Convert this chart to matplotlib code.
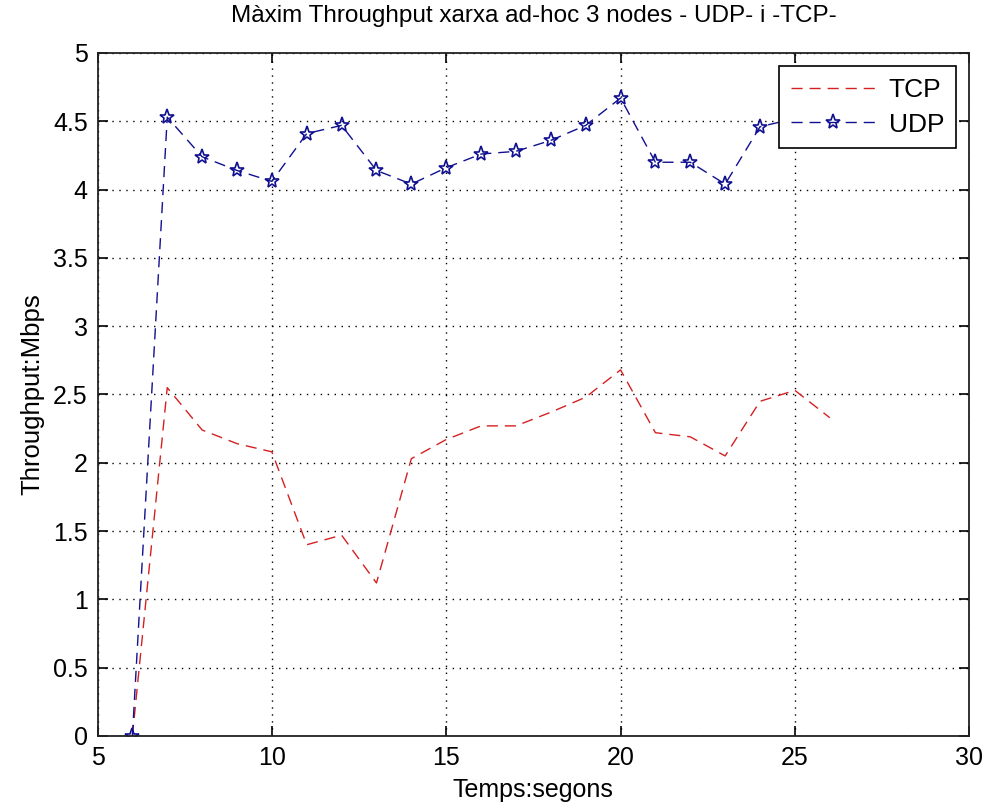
import matplotlib.pyplot as plt

# temps (segons) i throughput (Mbps)
temps_tcp = [6, 7, 8, 9, 10, 11, 12, 13, 14, 15, 16, 17, 18, 19, 20, 21, 22, 23, 24, 25, 26]
tcp = [0, 2.55, 2.24, 2.14, 2.08, 1.40, 1.47, 1.12, 2.03, 2.17, 2.27, 2.27, 2.37, 2.48, 2.68,
       2.22, 2.19, 2.05, 2.45, 2.53, 2.33]

temps_udp = [6, 7, 8, 9, 10, 11, 12, 13, 14, 15, 16, 17, 18, 19, 20, 21, 22, 23, 24, 25, 26]
udp = [0, 4.53, 4.24, 4.14, 4.06, 4.41, 4.47, 4.14, 4.04, 4.16, 4.26, 4.28, 4.36, 4.47, 4.67,
       4.20, 4.20, 4.04, 4.46, 4.52, 4.50]

plt.rcParams["font.family"] = ["Liberation Sans", "DejaVu Sans"]

fig = plt.figure(figsize=(9.85, 8.1), dpi=100)
ax = fig.add_axes([0.099, 0.0914, 0.885, 0.8432])

ax.plot(temps_tcp, tcp, linestyle=(0, (8, 5)), color="#d42020", linewidth=1.0, label="TCP")
ax.plot(temps_udp, udp, linestyle=(0, (8, 5)), color="#101090", linewidth=1.0,
        marker="*", markersize=11, markerfacecolor="none", markeredgecolor="#101090",
        markeredgewidth=1.2, label="UDP")

ax.set_xlim(5, 30)
ax.set_ylim(0, 5)
ax.set_xticks([5, 10, 15, 20, 25, 30])
ax.set_yticks([0, 0.5, 1, 1.5, 2, 2.5, 3, 3.5, 4, 4.5, 5])
ax.set_yticklabels(["0", "0.5", "1", "1.5", "2", "2.5", "3", "3.5", "4", "4.5", "5"])
ax.tick_params(direction="in", top=True, right=True, labelsize=18, length=7, width=1.2, pad=7)
ax.grid(True, linestyle=(0, (1, 4)), color="black", linewidth=1.0)
for s in ax.spines.values():
    s.set_linewidth(1.3)
    s.set_color("#222222")

ax.set_title("Màxim Throughput xarxa ad-hoc 3 nodes - UDP- i -TCP-", fontsize=17.5, pad=22)
ax.set_xlabel("Temps:segons", fontsize=18, labelpad=6)
ax.set_ylabel("Throughput:Mbps", fontsize=18.5, labelpad=6)

leg = ax.legend(loc="upper right", fontsize=19, fancybox=False, framealpha=1,
                edgecolor="black", borderaxespad=0.5, handlelength=3.2, borderpad=0.45,
                labelspacing=0.4, handletextpad=0.5)
leg.get_frame().set_linewidth(1.2)

fig.savefig("out.png", dpi=100)
